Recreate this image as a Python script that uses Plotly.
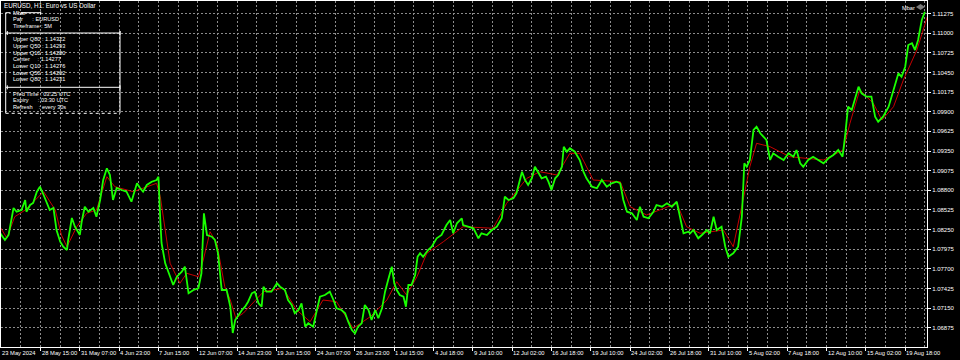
import plotly.graph_objects as go

# ---------------- data (x = hourly bar index from left edge, y = price) ----------------
green_bar = [0, 8, 14, 19, 22, 27, 35, 41, 43, 49, 54, 60, 65, 71, 76, 81, 87, 92, 98, 103,
             109, 111, 117, 122, 130, 133, 138, 144, 152, 157, 163, 168, 174, 179, 184, 190, 198, 206, 214, 223,
             228, 233, 239, 247, 255, 258, 261, 263, 269, 274, 282, 288, 296, 301, 307, 315, 323, 328, 332, 337,
             345, 350, 355, 361, 369, 375, 379, 383, 388, 391, 394, 399, 404, 410, 415, 421, 426, 429, 434, 442,
             451, 456, 464, 469, 475, 480, 486, 491, 497, 502, 510, 516, 521, 529, 537, 543, 548, 556, 562, 567,
             573, 578, 583, 589, 594, 600, 605, 611, 616, 622, 627, 632, 638, 642, 646, 651, 657, 661, 665, 670,
             676, 680, 684, 689, 697, 703, 711, 719, 727, 733, 738, 744, 752, 754, 763, 771, 779, 784, 793, 801,
             809, 817, 822, 828, 836, 841, 850, 855, 860, 866, 871, 877, 882, 889, 893, 898, 904, 909, 915, 918,
             923, 928, 936, 944, 950, 955, 964, 972, 980, 988, 996, 1004, 1010, 1015, 1021, 1029, 1037, 1042, 1048, 1056,
             1064, 1069, 1078, 1086, 1094, 1102, 1107, 1113, 1121, 1124, 1129, 1137, 1143, 1151, 1156, 1162, 1167, 1175, 1181, 1186,
             1194, 1202, 1208, 1212, 1216, 1221, 1227, 1232, 1238, 1243, 1248, 1254, 1259, 1267, 1276, 1284, 1292, 1297, 1303, 1308,
             1316, 1324, 1333, 1341, 1349, 1357, 1365, 1372, 1376, 1381, 1387, 1392, 1398, 1403, 1411, 1419, 1425, 1430, 1438, 1447,
             1455, 1463, 1468, 1474, 1479, 1485, 1490, 1495, 1501, 1506]
green_price = [1.08202, 1.08104, 1.08174, 1.08430, 1.08552, 1.08500, 1.08524, 1.08664, 1.08500, 1.08594,
               1.08622, 1.08780, 1.08850, 1.08734, 1.08622, 1.08524, 1.08552, 1.08244, 1.08080, 1.08010,
               1.07964, 1.08104, 1.08412, 1.08290, 1.08174, 1.08360, 1.08570, 1.08500, 1.08552, 1.08430,
               1.08664, 1.08944, 1.09108, 1.09014, 1.08664, 1.08832, 1.08804, 1.08780, 1.08640, 1.08898,
               1.08832, 1.08780, 1.08874, 1.08920, 1.08944, 1.08990, 1.08384, 1.08062, 1.07778, 1.07660,
               1.07474, 1.07590, 1.07660, 1.07730, 1.07358, 1.07404, 1.07428, 1.07638, 1.08478, 1.08174,
               1.08150, 1.08104, 1.07918, 1.07404, 1.07404, 1.07170, 1.06802, 1.06984, 1.07054, 1.07082,
               1.07124, 1.07170, 1.07240, 1.07358, 1.07380, 1.07218, 1.07170, 1.07450, 1.07380, 1.07380,
               1.07498, 1.07450, 1.07404, 1.07264, 1.07194, 1.07078, 1.07124, 1.07218, 1.06890, 1.06938,
               1.06890, 1.07124, 1.07310, 1.07334, 1.07380, 1.07264, 1.07148, 1.07124, 1.07078, 1.06960,
               1.06844, 1.06798, 1.06890, 1.06938, 1.07194, 1.07124, 1.06984, 1.07124, 1.07008, 1.07148,
               1.07380, 1.07544, 1.07730, 1.07498, 1.07404, 1.07334, 1.07310, 1.07170, 1.07474, 1.07474,
               1.07614, 1.07870, 1.07918, 1.07870, 1.07964, 1.08010, 1.08128, 1.08174, 1.08314, 1.08384,
               1.08198, 1.08338, 1.08408, 1.08314, 1.08290, 1.08268, 1.08128, 1.08198, 1.08174, 1.08244,
               1.08290, 1.08408, 1.08710, 1.08664, 1.08688, 1.08758, 1.09060, 1.08944, 1.08874, 1.08968,
               1.09130, 1.09038, 1.08968, 1.08990, 1.08920, 1.08804, 1.08968, 1.09014, 1.09130, 1.09410,
               1.09340, 1.09388, 1.09340, 1.09224, 1.09060, 1.08968, 1.08850, 1.08828, 1.08944, 1.08850,
               1.08898, 1.08920, 1.08898, 1.08664, 1.08500, 1.08478, 1.08384, 1.08570, 1.08430, 1.08408,
               1.08500, 1.08594, 1.08570, 1.08618, 1.08570, 1.08640, 1.08430, 1.08198, 1.08220, 1.08198,
               1.08244, 1.08128, 1.08174, 1.08244, 1.08198, 1.08430, 1.08244, 1.08290, 1.08010, 1.07870,
               1.07918, 1.08010, 1.08430, 1.09178, 1.09130, 1.09224, 1.09644, 1.09690, 1.09598, 1.09550,
               1.09504, 1.09224, 1.09318, 1.09270, 1.09224, 1.09318, 1.09270, 1.09364, 1.09178, 1.09130,
               1.09224, 1.09270, 1.09224, 1.09178, 1.09248, 1.09294, 1.09364, 1.09270, 1.09550, 1.09970,
               1.09924, 1.10064, 1.10250, 1.10158, 1.10110, 1.10110, 1.09830, 1.09760, 1.09830, 1.09970,
               1.10204, 1.10438, 1.10390, 1.10530, 1.10834, 1.10858, 1.10764, 1.10904, 1.11184, 1.11300]

red_bar = [0, 11, 24, 41, 71, 90, 100, 109, 125, 141, 157, 174, 187, 217, 255, 261, 277, 293, 304, 323,
           331, 342, 353, 366, 375, 384, 396, 429, 461, 483, 505, 526, 548, 575, 603, 630, 646, 662, 679, 695,
           722, 754, 803, 825, 858, 879, 907, 928, 944, 966, 1010, 1026, 1053, 1102, 1118, 1140, 1178, 1194, 1210, 1221,
           1232, 1254, 1286, 1341, 1373, 1384, 1400, 1422, 1436, 1455, 1471, 1493, 1510]
red_price = [1.08290, 1.08132, 1.08430, 1.08524, 1.08780, 1.08524, 1.08174, 1.08010, 1.08290, 1.08478,
             1.08524, 1.08990, 1.08850, 1.08780, 1.08898, 1.08710, 1.07778, 1.07498, 1.07638, 1.07590,
             1.07824, 1.08220, 1.08058, 1.07450, 1.07264, 1.07012, 1.07078, 1.07380, 1.07428, 1.07124,
             1.06960, 1.07264, 1.07240, 1.06868, 1.07030, 1.07264, 1.07520, 1.07334, 1.07590, 1.07918,
             1.08080, 1.08290, 1.08268, 1.08618, 1.08968, 1.09060, 1.09014, 1.09318, 1.09318, 1.08944,
             1.08920, 1.08570, 1.08454, 1.08618, 1.08290, 1.08198, 1.08244, 1.08010, 1.08664, 1.09130,
             1.09458, 1.09410, 1.09270, 1.09224, 1.09364, 1.09738, 1.10204, 1.10018, 1.09784, 1.09970,
             1.10344, 1.10764, 1.11230]

x_label_bars = [2, 66, 130, 194, 258, 322, 386, 450, 514, 578, 642, 706, 770, 834, 898, 962,
                1026, 1090, 1154, 1218, 1282, 1346, 1410, 1474]
x_label_text = ["23 May 2024", "28 May 15:00", "31 May 07:00", "4 Jun 23:00", "7 Jun 15:00",
                "12 Jun 07:00", "14 Jun 23:00", "19 Jun 15:00", "24 Jun 07:00", "26 Jun 23:00",
                "1 Jul 15:00", "4 Jul 18:00", "9 Jul 10:00", "12 Jul 02:00", "16 Jul 18:00",
                "19 Jul 10:00", "24 Jul 02:00", "26 Jul 18:00", "31 Jul 10:00", "5 Aug 02:00",
                "7 Aug 18:00", "12 Aug 10:00", "15 Aug 02:00", "19 Aug 18:00"]
x_grid_bars = [34, 98, 162, 226, 290, 354, 418, 482, 546, 610, 674, 738, 802, 866, 930, 994,
               1058, 1122, 1186, 1250, 1314, 1378, 1442, 1506]

y_tick_vals = [1.06875, 1.07150, 1.07425, 1.07700, 1.07975, 1.08250, 1.08525, 1.08800, 1.09075,
               1.09350, 1.09625, 1.09900, 1.10175, 1.10450, 1.10725, 1.11000, 1.11275]
y_tick_text = ["%.5f" % v for v in y_tick_vals]

panel_title = "EURUSD, H1: Euro vs US Dollar"
panel_name = "Mbar"
panel_rows_top = ["Pair\u00a0\u00a0\u00a0\u00a0\u00a0\u00a0: EURUSD", "Timeframe : 5M"]
panel_rows_mid = ["Upper Q80 : 1.14322", "Upper Q50 : 1.14293", "Upper Q10 : 1.14280",
                  "Center\u00a0\u00a0\u00a0\u00a0\u00a0: 1.14277", "Lower Q10 : 1.14276",
                  "Lower Q50 : 1.14262", "Lower Q80 : 1.14231"]
panel_rows_bot = ["Pred Time : 03:25 UTC", "Expiry\u00a0\u00a0\u00a0\u00a0\u00a0\u00a0: 03:30 UTC",
                  "Refresh\u00a0\u00a0\u00a0\u00a0: every 30s"]

# ---------------- layout helpers (pixel -> paper) ----------------
PX0, PX1, PY0, PY1 = 1, 927, 1, 347
def px(x):
    return (x - PX0) / (PX1 - PX0)
def py(y):
    return (PY1 - y) / (PY1 - PY0)

FONT = "Liberation Sans"
WHITE = "#ffffff"
GRID = "#8c8c8c"

fig = go.Figure()
fig.add_trace(go.Scatter(x=red_bar, y=red_price, mode="lines",
                         line=dict(color="#c80000", width=1), hoverinfo="skip", showlegend=False))
fig.add_trace(go.Scatter(x=green_bar, y=green_price, mode="lines",
                         line=dict(color="#19ff00", width=1.8), hoverinfo="skip", showlegend=False))

annotations = []
for b, t in zip(x_label_bars, x_label_text):
    annotations.append(dict(x=b, y=0, xref="x", yref="paper", text=t, showarrow=False,
                            xanchor="left", yanchor="top", xshift=-1, yshift=-1,
                            font=dict(family=FONT, size=5.8, color=WHITE)))

def txt(x, y, t, size=5.6):
    annotations.append(dict(x=px(x), y=py(y), xref="paper", yref="paper", text=t, showarrow=False,
                            xanchor="left", yanchor="middle", font=dict(family=FONT, size=size, color=WHITE)))

txt(2, 5.5, panel_title, 6.3)
txt(11, 12.7, panel_name)
for i, t in enumerate(panel_rows_top):
    txt(11, 19.5 + 6.2 * i, t)
for i, t in enumerate(panel_rows_mid):
    txt(11, 39.3 + 6.65 * i, t)
for i, t in enumerate(panel_rows_bot):
    txt(11, 94 + 6.35 * i, t)
txt(900, 7.5, "Mbar", 5.6)

shapes = []
def seg(x0, y0, x1, y1, dash="solid", color=WHITE):
    shapes.append(dict(type="line", xref="paper", yref="paper", x0=px(x0), y0=py(y0), x1=px(x1), y1=py(y1),
                       line=dict(color=color, width=1, dash=dash)))

seg(5.7, 12.7, 10.5, 12.7)
seg(21, 12.7, 40.7, 12.7)
seg(40.7, 11.5, 40.7, 14.5)
seg(5.7, 12.7, 5.7, 113.3)
for yy in (33, 87.3):
    seg(6, yy, 120, yy)
    seg(7.3, yy - 2, 7.3, yy + 2)
    seg(120, yy - 2, 120, yy + 2)
seg(120, 31, 120, 113.3)
seg(5.7, 113.3, 120, 113.3, dash="dot")
shapes.append(dict(type="path", xref="paper", yref="paper",
                   path="M %f %f L %f %f L %f %f L %f %f Z" % (px(916), py(7), px(920.5), py(4),
                                                             px(925), py(7), px(920.5), py(10)),
                   fillcolor="#7a7a7a", line=dict(width=0)))

fig.update_layout(
    width=960, height=360,
    margin=dict(l=PX0, r=960 - PX1, t=PY0, b=360 - PY1),
    paper_bgcolor="#000000", plot_bgcolor="#000000",
    showlegend=False,
    annotations=annotations, shapes=shapes,
    xaxis=dict(range=[1.6, 1509.5], tickmode="array", tickvals=x_label_bars[1:], showticklabels=False,
               ticks="outside", ticklen=3, tickcolor=WHITE,
               showgrid=True, gridcolor=GRID, griddash="2px,2px", gridwidth=1,
               minor=dict(tickmode="array", tickvals=x_grid_bars, showgrid=True, gridcolor=GRID,
                          griddash="2px,2px", ticks=""),
               zeroline=False, showline=True, linecolor=WHITE, linewidth=1, mirror=True, fixedrange=True),
    yaxis=dict(range=[1.06606, 1.11450], side="right", tickmode="array", tickvals=y_tick_vals,
               ticktext=y_tick_text, ticks="outside", ticklen=3, tickcolor=WHITE,
               tickfont=dict(family=FONT, size=6, color=WHITE),
               showgrid=True, gridcolor=GRID, griddash="2px,2px", gridwidth=1,
               zeroline=False, showline=True, linecolor=WHITE, linewidth=1, mirror=True, fixedrange=True),
)

fig.write_html("out.html")
